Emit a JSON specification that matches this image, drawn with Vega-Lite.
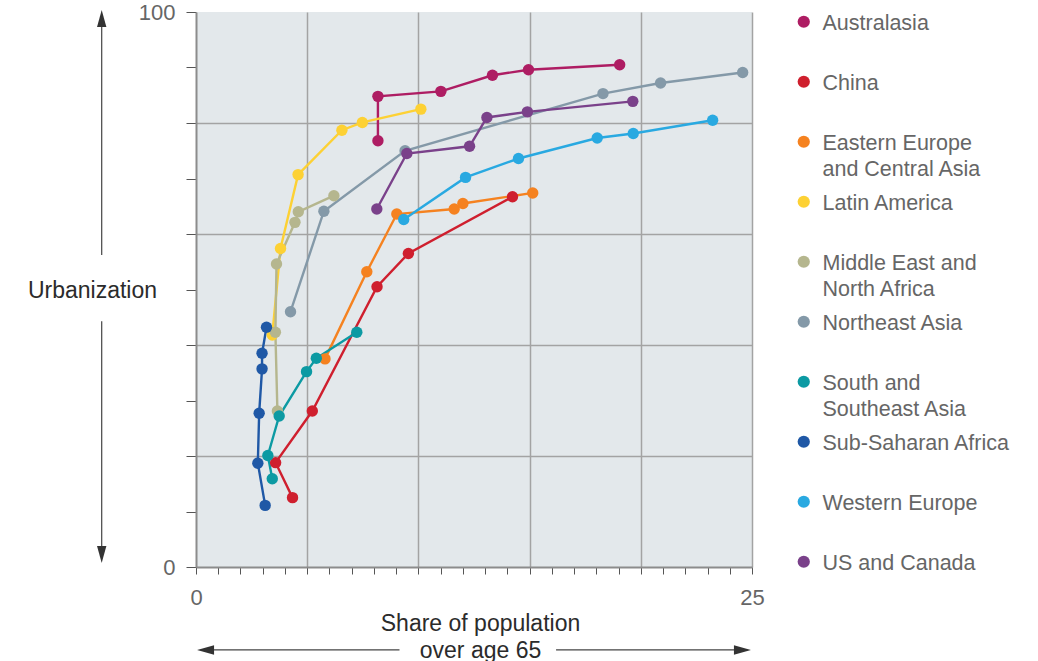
{
  "$schema": "https://vega.github.io/schema/vega-lite/v6.json",
  "description": "Urbanization vs share of population over age 65, by region",
  "width": 556,
  "height": 555,
  "autosize": {"type": "none"},
  "padding": {"left": 196, "top": 12, "right": 286, "bottom": 94},
  "background": "white",
  "config": {
    "font": "Liberation Sans",
    "view": {"fill": "#e3e8eb", "stroke": null}
  },
  "datasets": {
    "regions": [
      {"region": "Australasia", "step": 1, "x": 8.18, "y": 76.8},
      {"region": "Australasia", "step": 2, "x": 8.18, "y": 84.8},
      {"region": "Australasia", "step": 3, "x": 11.01, "y": 85.7},
      {"region": "Australasia", "step": 4, "x": 13.33, "y": 88.6},
      {"region": "Australasia", "step": 5, "x": 14.95, "y": 89.6},
      {"region": "Australasia", "step": 6, "x": 19.05, "y": 90.5},
      {"region": "China", "step": 1, "x": 4.34, "y": 12.5},
      {"region": "China", "step": 2, "x": 3.58, "y": 18.8},
      {"region": "China", "step": 3, "x": 5.23, "y": 28.1},
      {"region": "China", "step": 4, "x": 8.14, "y": 50.5},
      {"region": "China", "step": 5, "x": 9.55, "y": 56.5},
      {"region": "China", "step": 6, "x": 14.23, "y": 66.7},
      {"region": "Eastern Europe and Central Asia", "step": 1, "x": 5.8, "y": 37.5},
      {"region": "Eastern Europe and Central Asia", "step": 2, "x": 7.68, "y": 53.2},
      {"region": "Eastern Europe and Central Asia", "step": 3, "x": 9.03, "y": 63.6},
      {"region": "Eastern Europe and Central Asia", "step": 4, "x": 11.61, "y": 64.5},
      {"region": "Eastern Europe and Central Asia", "step": 5, "x": 12.0, "y": 65.5},
      {"region": "Eastern Europe and Central Asia", "step": 6, "x": 15.14, "y": 67.4},
      {"region": "Latin America", "step": 1, "x": 3.43, "y": 41.8},
      {"region": "Latin America", "step": 2, "x": 3.8, "y": 57.4},
      {"region": "Latin America", "step": 3, "x": 4.59, "y": 70.7},
      {"region": "Latin America", "step": 4, "x": 6.56, "y": 78.7},
      {"region": "Latin America", "step": 5, "x": 7.48, "y": 80.1},
      {"region": "Latin America", "step": 6, "x": 10.11, "y": 82.5},
      {"region": "Middle East and North Africa", "step": 1, "x": 3.66, "y": 28.1},
      {"region": "Middle East and North Africa", "step": 2, "x": 3.57, "y": 42.3},
      {"region": "Middle East and North Africa", "step": 3, "x": 3.62, "y": 54.6},
      {"region": "Middle East and North Africa", "step": 4, "x": 4.45, "y": 62.1},
      {"region": "Middle East and North Africa", "step": 5, "x": 4.6, "y": 64.0},
      {"region": "Middle East and North Africa", "step": 6, "x": 6.2, "y": 66.9},
      {"region": "Northeast Asia", "step": 1, "x": 4.25, "y": 46.0},
      {"region": "Northeast Asia", "step": 2, "x": 5.75, "y": 64.1},
      {"region": "Northeast Asia", "step": 3, "x": 9.4, "y": 75.0},
      {"region": "Northeast Asia", "step": 4, "x": 18.3, "y": 85.3},
      {"region": "Northeast Asia", "step": 5, "x": 20.89, "y": 87.2},
      {"region": "Northeast Asia", "step": 6, "x": 24.58, "y": 89.1},
      {"region": "South and Southeast Asia", "step": 1, "x": 3.43, "y": 15.9},
      {"region": "South and Southeast Asia", "step": 2, "x": 3.23, "y": 20.1},
      {"region": "South and Southeast Asia", "step": 3, "x": 3.74, "y": 27.2},
      {"region": "South and Southeast Asia", "step": 4, "x": 4.97, "y": 35.2},
      {"region": "South and Southeast Asia", "step": 5, "x": 5.41, "y": 37.6},
      {"region": "South and Southeast Asia", "step": 6, "x": 7.23, "y": 42.3},
      {"region": "Sub-Saharan Africa", "step": 1, "x": 3.11, "y": 11.1},
      {"region": "Sub-Saharan Africa", "step": 2, "x": 2.78, "y": 18.7},
      {"region": "Sub-Saharan Africa", "step": 3, "x": 2.84, "y": 27.7},
      {"region": "Sub-Saharan Africa", "step": 4, "x": 2.97, "y": 35.7},
      {"region": "Sub-Saharan Africa", "step": 5, "x": 2.97, "y": 38.5},
      {"region": "Sub-Saharan Africa", "step": 6, "x": 3.17, "y": 43.2},
      {"region": "Western Europe", "step": 1, "x": 9.34, "y": 62.6},
      {"region": "Western Europe", "step": 2, "x": 12.12, "y": 70.2},
      {"region": "Western Europe", "step": 3, "x": 14.5, "y": 73.6},
      {"region": "Western Europe", "step": 4, "x": 18.04, "y": 77.3},
      {"region": "Western Europe", "step": 5, "x": 19.66, "y": 78.1},
      {"region": "Western Europe", "step": 6, "x": 23.23, "y": 80.5},
      {"region": "US and Canada", "step": 1, "x": 8.13, "y": 64.5},
      {"region": "US and Canada", "step": 2, "x": 9.48, "y": 74.5},
      {"region": "US and Canada", "step": 3, "x": 12.3, "y": 75.8},
      {"region": "US and Canada", "step": 4, "x": 13.08, "y": 81.0},
      {"region": "US and Canada", "step": 5, "x": 14.9, "y": 82.0},
      {"region": "US and Canada", "step": 6, "x": 19.64, "y": 83.9}
    ],
    "arrows": [
      {"x": -4.24, "y": 97.3, "x2": -4.24, "y2": 56.2},
      {"x": -4.24, "y": 44.3, "x2": -4.24, "y2": 3.8},
      {"x": 0.81, "y": -14.95, "x2": 9.15, "y2": -14.95},
      {"x": 16.19, "y": -14.95, "x2": 24.19, "y2": -14.95}
    ],
    "heads": [
      {"dir": "up", "x": -4.24, "y": 98.83},
      {"dir": "down", "x": -4.24, "y": 2.25},
      {"dir": "left", "x": 0.43, "y": -14.95},
      {"dir": "right", "x": 24.57, "y": -14.95}
    ]
  },
  "encoding": {
    "x": {
      "field": "x",
      "type": "quantitative",
      "scale": {"domain": [0, 25], "nice": false, "zero": false},
      "axis": {
        "values": [0, 1, 2, 3, 4, 5, 6, 7, 8, 9, 10, 11, 12, 13, 14, 15, 16, 17, 18, 19, 20, 21, 22, 23, 24, 25],
        "title": ["Share of population", "over age 65"],
        "titleFontSize": 23,
        "titleFontWeight": "normal",
        "titleColor": "#2b2b2b",
        "titleLineHeight": 27,
        "titleAlign": "center",
        "titleBaseline": "top",
        "titleX": 284,
        "titleY": 45,
        "labelExpr": "datum.value == 0 || datum.value == 25 ? datum.label : ''",
        "labelFontSize": 22,
        "labelColor": "#666666",
        "labelPadding": 13,
        "labelFlush": false,
        "labelOverlap": false,
        "labelBound": false,
        "tickSize": 7,
        "tickColor": "#555555",
        "tickWidth": 1,
        "domainColor": "#8c8c8c",
        "domainWidth": 2,
        "grid": true,
        "gridColor": "#a3a3a3",
        "gridWidth": 1.5,
        "gridOpacity": {"condition": {"test": "datum.value % 5 === 0 && datum.value > 0", "value": 1}, "value": 0}
      }
    },
    "y": {
      "field": "y",
      "type": "quantitative",
      "scale": {"domain": [0, 100], "nice": false, "zero": false},
      "axis": {
        "values": [0, 10, 20, 30, 40, 50, 60, 70, 80, 90, 100],
        "title": "Urbanization",
        "titleAngle": 0,
        "titleFontSize": 23,
        "titleFontWeight": "normal",
        "titleColor": "#2b2b2b",
        "titleAlign": "center",
        "titleBaseline": "middle",
        "titleX": -104,
        "titleY": 278,
        "labelExpr": "datum.value == 0 || datum.value == 100 ? datum.label : ''",
        "labelFontSize": 22,
        "labelColor": "#666666",
        "labelPadding": 11,
        "labelBaseline": "middle",
        "labelOverlap": false,
        "labelBound": false,
        "labelFlush": false,
        "tickSize": 10,
        "tickColor": "#555555",
        "tickWidth": 1,
        "domainColor": "#8c8c8c",
        "domainWidth": 2,
        "grid": true,
        "gridColor": "#a3a3a3",
        "gridWidth": 1.5,
        "gridOpacity": {"condition": {"test": "datum.value % 20 === 0 && datum.value > 0 && datum.value < 100", "value": 1}, "value": 0}
      }
    }
  },
  "layer": [
    {
      "data": {"name": "regions"},
      "mark": {"type": "line", "strokeWidth": 2.4},
      "encoding": {
        "color": {"field": "region", "type": "nominal"},
        "order": {"field": "step", "type": "quantitative"}
      }
    },
    {
      "data": {"name": "regions"},
      "mark": {"type": "circle", "size": 130, "opacity": 1},
      "encoding": {
        "color": {
          "field": "region",
          "type": "nominal",
          "scale": {
            "domain": ["Australasia", "China", "Eastern Europe and Central Asia", "Latin America", "Middle East and North Africa", "Northeast Asia", "South and Southeast Asia", "Sub-Saharan Africa", "Western Europe", "US and Canada"],
            "range": ["#ae1d63", "#cf1f2e", "#f58220", "#fdd134", "#b5b68e", "#8499a8", "#0c9aa3", "#1f58a6", "#29a9e1", "#7a418a"]
          },
          "legend": {
            "title": null,
            "orient": "none",
            "legendX": 597,
            "legendY": -1,
            "padding": 0,
            "symbolType": "circle",
            "symbolSize": 150,
            "symbolStrokeWidth": 0,
            "symbolOpacity": 1,
            "labelFontSize": 21.5,
            "labelColor": "#666666",
            "labelOffset": 8,
            "labelLimit": 300,
            "labelBaseline": "top",
            "rowPadding": 10,
            "gridAlign": "all",
            "labelExpr": "datum.label == 'Eastern Europe and Central Asia' ? ['Eastern Europe', 'and Central Asia'] : datum.label == 'Middle East and North Africa' ? ['Middle East and', 'North Africa'] : datum.label == 'South and Southeast Asia' ? ['South and', 'Southeast Asia'] : datum.label",
            "encode": {"labels": {"update": {"dy": {"value": -9}, "lineHeight": {"value": 26}}}}
          }
        }
      }
    },
    {
      "data": {"name": "arrows"},
      "mark": {"type": "rule", "color": "#444444", "strokeWidth": 1.2},
      "encoding": {
        "x2": {"field": "x2"},
        "y2": {"field": "y2"}
      }
    },
    {
      "data": {"name": "heads"},
      "mark": {"type": "point", "filled": true, "opacity": 1, "color": "#333333", "size": 289},
      "encoding": {
        "shape": {
          "field": "dir",
          "type": "nominal",
          "legend": null,
          "scale": {
            "domain": ["up", "down", "left", "right"],
            "range": ["M0,-1L0.55,1L-0.55,1Z", "M0,1L0.55,-1L-0.55,-1Z", "M-1,0L1,-0.55L1,0.55Z", "M1,0L-1,-0.55L-1,0.55Z"]
          }
        }
      }
    }
  ]
}
